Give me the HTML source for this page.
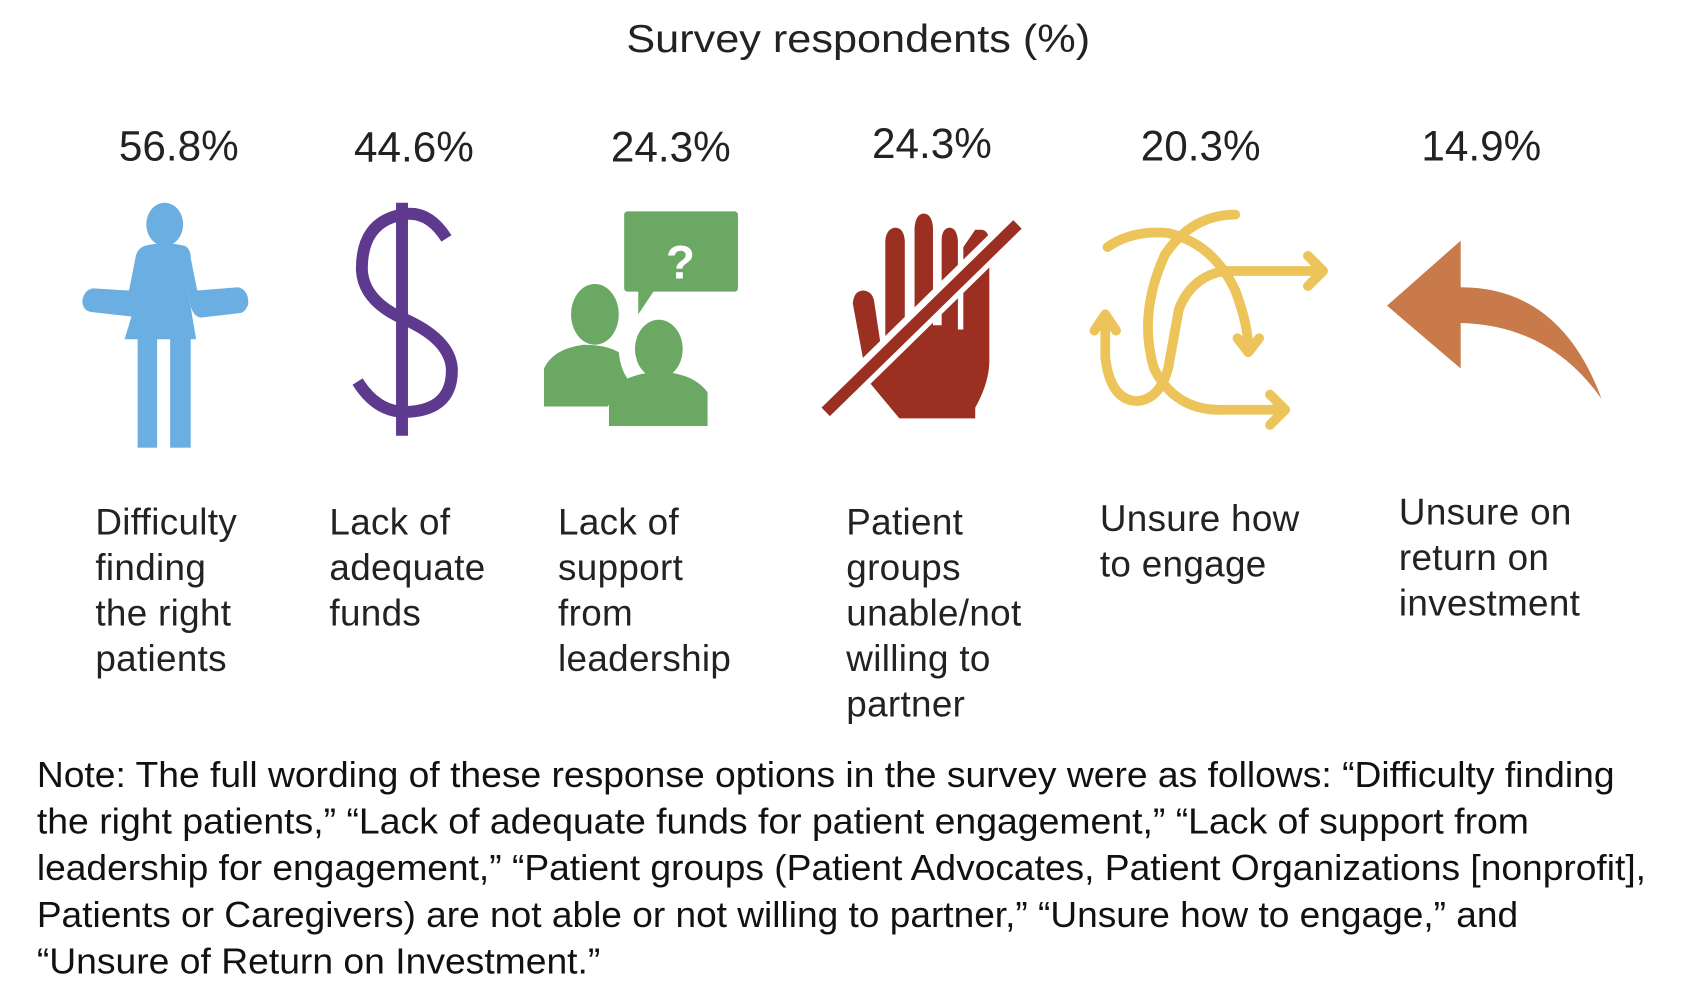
<!DOCTYPE html>
<html><head><meta charset="utf-8"><style>
html,body{margin:0;padding:0;background:#fff;}
svg{display:block;}
.t{font-family:"Liberation Sans",Arial,sans-serif;fill:#222;}
.n{font-family:"Liberation Sans",Arial,sans-serif;fill:#111;}
</style></head><body>
<svg width="1698" height="994" viewBox="0 0 1567 917" preserveAspectRatio="none" xmlns="http://www.w3.org/2000/svg">
<rect width="1567" height="917" fill="#fff"/>
<text class="t" x="792" y="48" font-size="36" text-anchor="middle" textLength="428" lengthAdjust="spacingAndGlyphs">Survey respondents (%)</text>
<g class="t" font-size="39" text-anchor="middle">
<text x="165" y="148">56.8%</text>
<text x="382" y="149">44.6%</text>
<text x="619" y="149">24.3%</text>
<text x="860" y="146">24.3%</text>
<text x="1108" y="148">20.3%</text>
<text x="1367" y="148">14.9%</text>
</g>
<g class="t" font-size="34" letter-spacing="0.3">
<text x="88" y="493">Difficulty</text><text x="88" y="535">finding</text><text x="88" y="577">the right</text><text x="88" y="619">patients</text>
<text x="304" y="493">Lack of</text><text x="304" y="535">adequate</text><text x="304" y="577">funds</text>
<text x="515" y="493">Lack of</text><text x="515" y="535">support</text><text x="515" y="577">from</text><text x="515" y="619">leadership</text>
<text x="781" y="493">Patient</text><text x="781" y="535">groups</text><text x="781" y="577">unable/not</text><text x="781" y="619">willing to</text><text x="781" y="661">partner</text>
<text x="1015" y="490">Unsure how</text><text x="1015" y="532">to engage</text>
<text x="1291" y="484">Unsure on</text><text x="1291" y="526">return on</text><text x="1291" y="568">investment</text>
</g>
<g class="n" font-size="33">
<text x="34" y="726" textLength="1456" lengthAdjust="spacingAndGlyphs">Note: The full wording of these response options in the survey were as follows: “Difficulty finding</text>
<text x="34" y="769" textLength="1377" lengthAdjust="spacingAndGlyphs">the right patients,” “Lack of adequate funds for patient engagement,” “Lack of support from</text>
<text x="34" y="812" textLength="1485" lengthAdjust="spacingAndGlyphs">leadership for engagement,” “Patient groups (Patient Advocates, Patient Organizations [nonprofit],</text>
<text x="34" y="855" textLength="1367" lengthAdjust="spacingAndGlyphs">Patients or Caregivers) are not able or not willing to partner,” “Unsure how to engage,” and</text>
<text x="34" y="898" textLength="520" lengthAdjust="spacingAndGlyphs">“Unsure of Return on Investment.”</text>
</g>
<!-- woman -->
<g fill="#6aaee2">
<ellipse cx="152" cy="207" rx="17" ry="20"/>
<path d="M133,227 Q152,222 171,227 Q176,230 176,238 L182,268 L220,265 Q230,268 229,281 Q226,289 220,289 L185,293 Q179,292 176,283 L172,260 L181,313 L188,313 L115,313 L124,283 L132,255 L130,280 Q127,292 121,292 L85,288 Q76,287 76,277 Q78,267 86,266 L119,268 L125,238 Q126,230 133,227 Z"/>
<rect x="127" y="310" width="18" height="103"/>
<rect x="157" y="310" width="19" height="103"/>
</g>
<!-- dollar -->
<g fill="none" stroke="#5e3a8f" stroke-width="11">
<line x1="371" y1="187" x2="371" y2="402"/>
<path d="M412,220 Q395,193 371,198 Q333,205 334,250 Q336,277 370,293 Q415,312 417,340 Q418,378 376,380 Q348,381 330,352"/>
</g>
<!-- green -->
<g fill="#6aa864">
<rect x="576" y="195" width="105" height="74" rx="3"/>
<path d="M589,266 L589,290 L605,266 Z"/>
<ellipse cx="549" cy="290" rx="22" ry="28"/>
<path d="M502,340 Q510,322 538,318 Q560,318 571,325 Q573,345 584,355 Q568,360 561,375 L502,375 Z"/>
<ellipse cx="608" cy="322" rx="22" ry="27"/>
<path d="M562,362 Q575,345 608,343 Q640,344 653,362 L653,393 L562,393 Z"/>
</g>
<text x="628" y="257" font-family="Liberation Sans,Arial,sans-serif" font-size="44" font-weight="bold" fill="#fff" text-anchor="middle">?</text>
<!-- hand -->
<g fill="#9b2f22">
<path d="M787,280 Q788,268 797,268 Q806,269 807,280 L816,340 Z"/>
<path d="M787,280 L800,350 L830,386 L900,386 L900,376 Q912,355 913,335 L913,222 Q912,212 905,212 L900,212 L889,228 L889,304 L884,304 L884,222 Q883,210 876,210 Q869,211 869,222 L869,300 L861,300 L861,210 Q860,197 852,197 Q845,198 844,210 L844,300 L835,300 L835,222 Q834,210 826,210 Q818,211 817,222 L817,320 L807,330 L807,280 Z"/>
</g>
<line x1="755" y1="386" x2="944" y2="201" stroke="#fff" stroke-width="22"/>
<line x1="762" y1="380" x2="939" y2="207" stroke="#9b2f22" stroke-width="11"/>
<!-- yellow -->
<g fill="none" stroke="#ecc45a" stroke-width="9" stroke-linecap="round" stroke-linejoin="round">
<path d="M1022,228 Q1045,212 1078,215 Q1120,225 1140,268 Q1152,300 1152,322"/>
<path d="M1140,198 Q1100,198 1075,235 Q1050,290 1065,340 Q1085,380 1130,378 L1186,378"/>
<path d="M1020,290 L1020,330 Q1025,370 1050,370 Q1070,368 1078,340 L1088,285 Q1100,255 1130,250 L1220,250"/>
<path d="M1010,305 L1020,290 L1030,305"/>
<path d="M1142,312 L1152,325 L1162,312"/>
<path d="M1207,236 L1221,250 L1207,264"/>
<path d="M1172,364 L1186,378 L1172,392"/>
</g>
<!-- orange arrow -->
<path fill="#c97a4a" d="M1280,282 L1348,222 L1348,265 Q1440,265 1478,368 Q1430,300 1348,298 L1348,340 Z"/>
</svg>
</body></html>
